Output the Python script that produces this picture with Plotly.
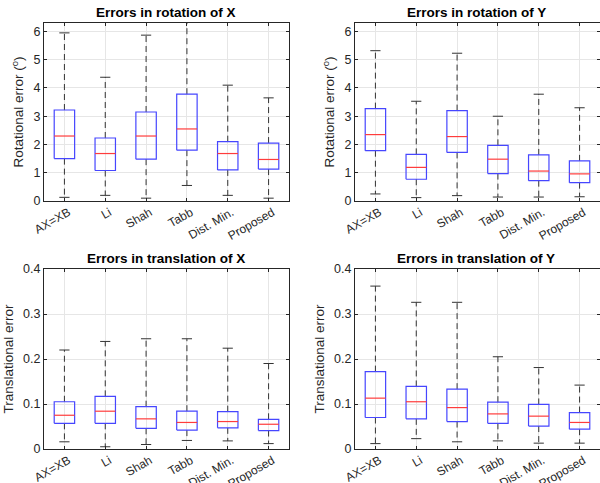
import plotly.graph_objects as go

categories = ["AX=XB", "Li", "Shah", "Tabb", "Dist. Min.", "Proposed"]

# Rotation of X
rx_lower = [0.13, 0.20, 0.10, 0.55, 0.20, 0.10]
rx_q1 = [1.50, 1.08, 1.48, 1.80, 1.10, 1.13]
rx_med = [2.30, 1.68, 2.30, 2.55, 1.68, 1.47]
rx_q3 = [3.22, 2.23, 3.15, 3.78, 2.10, 2.05]
rx_upper = [5.95, 4.38, 5.87, 6.60, 4.10, 3.65]

# Rotation of Y
ry_lower = [0.25, 0.12, 0.19, 0.14, 0.14, 0.15]
ry_q1 = [1.78, 0.77, 1.72, 0.97, 0.72, 0.65]
ry_med = [2.35, 1.19, 2.28, 1.48, 1.06, 0.96]
ry_q3 = [3.27, 1.65, 3.20, 1.97, 1.63, 1.42]
ry_upper = [5.32, 3.53, 5.23, 3.00, 3.78, 3.30]

# Translation of X
tx_lower = [0.016, 0.005, 0.010, 0.019, 0.018, 0.012]
tx_q1 = [0.057, 0.057, 0.046, 0.042, 0.047, 0.041]
tx_med = [0.075, 0.084, 0.067, 0.059, 0.061, 0.055]
tx_q3 = [0.105, 0.117, 0.094, 0.084, 0.083, 0.066]
tx_upper = [0.220, 0.239, 0.245, 0.245, 0.224, 0.190]

# Translation of Y
ty_lower = [0.012, 0.023, 0.016, 0.018, 0.013, 0.013]
ty_q1 = [0.070, 0.067, 0.061, 0.057, 0.051, 0.044]
ty_med = [0.113, 0.105, 0.092, 0.078, 0.073, 0.059]
ty_q3 = [0.172, 0.139, 0.133, 0.104, 0.099, 0.081]
ty_upper = [0.362, 0.326, 0.326, 0.205, 0.181, 0.142]

panels = [
    dict(title="Errors in rotation of X", ylabel="Rotational error (<sup>o</sup>)",
         lower=rx_lower, q1=rx_q1, med=rx_med, q3=rx_q3, upper=rx_upper,
         yrange=[0, 6.3], dtick=1, xd=[44/600, 289/600], yd=[1-201/483, 1-23/483], tx=166/600),
    dict(title="Errors in rotation of Y", ylabel="Rotational error (<sup>o</sup>)",
         lower=ry_lower, q1=ry_q1, med=ry_med, q3=ry_q3, upper=ry_upper,
         yrange=[0, 6.3], dtick=1, xd=[355/600, 600/600], yd=[1-201/483, 1-23/483], tx=476/600),
    dict(title="Errors in translation of X", ylabel="Translational error",
         lower=tx_lower, q1=tx_q1, med=tx_med, q3=tx_q3, upper=tx_upper,
         yrange=[0, 0.4], dtick=0.1, xd=[44/600, 289/600], yd=[1-449/483, 1-269/483], tx=166/600),
    dict(title="Errors in translation of Y", ylabel="Translational error",
         lower=ty_lower, q1=ty_q1, med=ty_med, q3=ty_q3, upper=ty_upper,
         yrange=[0, 0.4], dtick=0.1, xd=[355/600, 600/600], yd=[1-449/483, 1-269/483], tx=476/600),
]

BW = 0.25   # half box width
CW = 0.125  # half cap width
FONT = "Liberation Sans, Arial, sans-serif"
TXT = "#262626"

fig = go.Figure()
layout = dict(width=600, height=483, paper_bgcolor="white", plot_bgcolor="white",
              margin=dict(l=0, r=0, t=0, b=0, autoexpand=False), showlegend=False,
              font=dict(family=FONT, color=TXT, size=12.5))
annotations = []

for k, p in enumerate(panels):
    n = "" if k == 0 else str(k + 1)
    xa, ya = "x" + n, "y" + n
    wx, wy, bx, by, mx, my, cx, cy = [], [], [], [], [], [], [], []
    for i in range(len(categories)):
        c = i + 1
        wx += [c, c, None, c, c, None]
        wy += [p["q3"][i], p["upper"][i], None, p["q1"][i], p["lower"][i], None]
        cx += [c - CW, c + CW, None, c - CW, c + CW, None]
        cy += [p["upper"][i], p["upper"][i], None, p["lower"][i], p["lower"][i], None]
        bx += [c - BW, c + BW, c + BW, c - BW, c - BW, None]
        by += [p["q1"][i], p["q1"][i], p["q3"][i], p["q3"][i], p["q1"][i], None]
        mx += [c - BW, c + BW, None]
        my += [p["med"][i], p["med"][i], None]
    fig.add_trace(go.Scatter(x=wx, y=wy, mode="lines", xaxis=xa, yaxis=ya,
                             line=dict(color="#333333", width=1, dash="6px,4px"), hoverinfo="skip"))
    fig.add_trace(go.Scatter(x=cx, y=cy, mode="lines", xaxis=xa, yaxis=ya,
                             line=dict(color="#333333", width=1), hoverinfo="skip"))
    fig.add_trace(go.Scatter(x=bx, y=by, mode="lines", xaxis=xa, yaxis=ya,
                             line=dict(color="#4646ff", width=1.2), hoverinfo="skip"))
    fig.add_trace(go.Scatter(x=mx, y=my, mode="lines", xaxis=xa, yaxis=ya,
                             line=dict(color="#ff3c3c", width=1.2), hoverinfo="skip"))
    layout["xaxis" + n] = dict(domain=p["xd"], anchor=ya, range=[0.5, 6.5], automargin=False,
                               tickvals=list(range(1, len(categories) + 1)), ticktext=categories,
                               tickangle=-30, showline=True, linecolor="#262626", linewidth=1,
                               mirror="ticks", ticks="inside", ticklen=3, tickcolor="#262626",
                               showgrid=True, gridcolor="#e6e6e6", zeroline=False,
                               ticklabelshift=4, ticklabelstandoff=-1,
                               tickfont=dict(size=12, color=TXT, family=FONT))
    layout["yaxis" + n] = dict(domain=p["yd"], anchor=xa, range=p["yrange"], dtick=p["dtick"],
                               tick0=0, automargin=False, showline=True, linecolor="#262626",
                               linewidth=1, mirror="ticks", ticks="inside", ticklen=3,
                               tickcolor="#262626", showgrid=True, gridcolor="#e6e6e6",
                               zeroline=False, tickfont=dict(size=12.5, color=TXT, family=FONT),
                               title=dict(text=p["ylabel"], font=dict(size=13.5, color=TXT, family=FONT),
                                          standoff=6))
    annotations.append(dict(text="<b>" + p["title"] + "</b>", xref="paper", yref="paper",
                            x=p["tx"], y=p["yd"][1], yanchor="bottom", xanchor="center", yshift=1,
                            showarrow=False, font=dict(size=13.5, color="#000000", family=FONT)))

layout["annotations"] = annotations
fig.update_layout(**layout)
fig.write_html("out.html", config={"displayModeBar": False},
               post_script="document.body.style.margin='0px';document.body.style.padding='0px';")
